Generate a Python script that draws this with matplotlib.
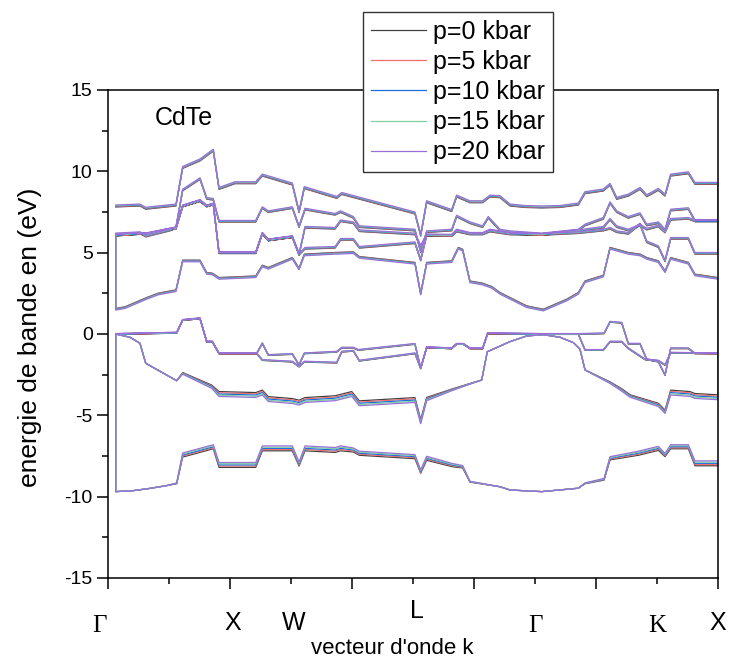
import numpy as np
import matplotlib
matplotlib.use("Agg")
import matplotlib.pyplot as plt
import matplotlib.transforms as mtransforms

plt.rcParams['font.family'] = ['Liberation Sans', 'DejaVu Sans']
plt.rcParams['axes.unicode_minus'] = False

# pressures and colours of the five series
pressures = [0, 5, 10, 15, 20]
series_labels = ['p=0 kbar', 'p=5 kbar', 'p=10 kbar', 'p=15 kbar', 'p=20 kbar']
series_colors = ['#404040', '#f07070', '#1a6fe0', '#80d0a0', '#9a70d8']

# high symmetry labels along the path
sym_labels = ['Γ', 'X', 'W', 'L', 'Γ', 'K', 'X']
sym_pos = [-0.07, 1.02, 1.52, 2.53, 3.5, 4.5, 5.0]

# bands: k (path units), E (eV, middle of the bundle)
# and the spread between p=0 and p=20 kbar
b1_k = [0.063, 0.207, 0.344, 0.481, 0.563, 0.612, 0.863, 0.910, 1.211, 1.265, 1.511, 1.566,
        1.615, 1.861, 1.907, 2.011, 2.060, 2.516, 2.563, 2.612, 2.817, 2.907, 2.967, 3.213,
        3.295, 3.555, 3.855, 3.910, 4.066, 4.115, 4.347, 4.511, 4.566, 4.612, 4.757, 4.811, 5.0]
b1_E = [-9.69, -9.63, -9.49, -9.32, -9.18, -7.44, -6.93, -8.05, -8.05, -7.03, -7.03, -7.99,
        -7.03, -7.13, -7.03, -7.13, -7.33, -7.54, -8.46, -7.64, -8.05, -8.16, -9.08, -9.39,
        -9.59, -9.69, -9.48, -9.18, -8.93, -7.64, -7.33, -7.03, -7.44, -6.93, -6.93, -7.95, -7.95]
b1_dp = [0, 0, 0, 0, 0.05, 0.25, 0.25, 0.3, 0.3, 0.3, 0.3, 0.25,
         0.3, 0.3, 0.3, 0.25, 0.25, 0.25, 0.2, 0.25, 0.2, 0.15, 0.05, 0,
         0, 0, 0, 0.05, 0.1, 0.2, 0.25, 0.25, 0.2, 0.25, 0.25, 0.3, 0.3]

b2_k = [0.063, 0.180, 0.262, 0.309, 0.563, 0.612, 0.850, 0.910, 1.211, 1.265, 1.314, 1.511,
        1.566, 1.615, 1.861, 1.998, 2.060, 2.516, 2.563, 2.612, 2.817, 2.940, 3.063, 3.109,
        3.213, 3.295, 3.432, 3.568, 3.705, 3.814, 3.869, 3.910, 4.115, 4.211, 4.279, 4.511,
        4.566, 4.612, 4.770, 4.811, 5.0]
b2_E = [0.0, -0.2, -0.57, -1.8, -2.87, -2.42, -3.24, -3.69, -3.75, -3.6, -4.0, -4.12,
        -4.22, -4.06, -3.95, -3.69, -4.26, -4.06, -5.39, -4.0, -3.44, -3.13, -2.83, -1.09,
        -0.74, -0.47, -0.12, -0.04, -0.2, -0.53, -0.94, -2.21, -2.99, -3.44, -3.81, -4.36,
        -4.78, -3.6, -3.69, -3.81, -3.89]
b2_dp = [0, 0, 0, 0, 0, -0.1, -0.2, -0.3, -0.3, -0.3, -0.3, -0.3,
         -0.3, -0.3, -0.3, -0.3, -0.3, -0.3, -0.25, -0.2, -0.1, -0.05, 0, 0,
         0, 0, 0, 0, 0, 0, 0, 0, -0.1, -0.15, -0.15, -0.2,
         -0.2, -0.3, -0.3, -0.3, -0.3]

b3_k = [0.063, 0.563, 0.612, 0.754, 0.809, 0.855, 0.910, 1.219, 1.265, 1.511, 1.566, 1.609,
        1.875, 1.916, 2.011, 2.060, 2.516, 2.563, 2.612, 2.817, 2.858, 2.912, 2.967, 3.071,
        3.112, 3.555, 3.855, 3.910, 4.060, 4.115, 4.211, 4.265, 4.402, 4.511, 4.566, 4.612, 5.0]
b3_E = [0.0, 0.08, 0.86, 0.96, -0.47, -0.47, -1.19, -1.19, -1.6, -1.7, -2.0, -1.7,
        -1.76, -1.09, -1.03, -1.64, -1.19, -2.11, -0.82, -0.88, -0.61, -0.61, -0.88, -0.88,
        0.04, 0.0, 0.0, -0.98, -0.98, -0.47, -0.47, -0.88, -1.56, -1.64, -1.9, -1.15, -1.19]
b3_dp = 0.05

b4_k = [0.063, 0.563, 0.612, 0.754, 0.809, 0.855, 0.910, 1.219, 1.265, 1.314, 1.511, 1.566,
        1.609, 1.875, 1.916, 2.011, 2.052, 2.516, 2.563, 2.612, 2.817, 2.858, 2.912, 2.967,
        3.071, 3.112, 3.555, 3.855, 4.066, 4.115, 4.211, 4.265, 4.361, 4.416, 4.511, 4.566,
        4.612, 4.757, 4.811, 5.0]
b4_E = [0.0, 0.08, 0.86, 0.96, -0.47, -0.47, -1.19, -1.19, -0.57, -1.29, -1.23, -1.9,
        -1.19, -1.09, -0.84, -0.84, -0.98, -0.61, -2.11, -0.82, -0.88, -0.61, -0.61, -0.88,
        -0.88, 0.04, 0.0, 0.0, 0.04, 0.75, 0.69, -0.6, -0.6, -1.56, -1.7, -2.52,
        -0.88, -0.88, -1.19, -1.19]
b4_dp = 0.05

b5_k = [0.063, 0.139, 0.207, 0.317, 0.412, 0.557, 0.612, 0.754, 0.809, 0.855, 0.910, 1.211,
        1.265, 1.314, 1.511, 1.566, 1.609, 1.861, 2.011, 2.060, 2.516, 2.563, 2.612, 2.817,
        2.871, 2.907, 2.967, 3.071, 3.145, 3.213, 3.268, 3.432, 3.568, 3.760, 3.855, 3.910,
        4.060, 4.115, 4.170, 4.265, 4.361, 4.416, 4.511, 4.566, 4.612, 4.757, 4.811, 5.0]
b5_E = [1.52, 1.62, 1.84, 2.19, 2.46, 2.66, 4.49, 4.49, 3.73, 3.69, 3.42, 3.52,
        4.18, 4.04, 4.65, 4.0, 4.86, 4.96, 5.0, 4.71, 4.35, 2.46, 4.35, 4.45,
        5.27, 5.16, 3.21, 3.07, 2.87, 2.5, 2.29, 1.68, 1.47, 2.09, 2.5, 3.21,
        3.56, 5.27, 5.16, 4.96, 4.86, 4.65, 4.45, 3.83, 4.65, 4.35, 3.63, 3.42]
b5_dp = -0.1

b6_k = [0.063, 0.262, 0.309, 0.508, 0.557, 0.612, 0.754, 0.809, 0.863, 0.910, 1.211, 1.265,
        1.314, 1.511, 1.566, 1.615, 1.861, 1.907, 2.011, 2.060, 2.516, 2.563, 2.612, 2.817,
        2.858, 2.967, 3.071, 3.117, 3.213, 3.295, 3.555, 3.855, 3.910, 4.060, 4.115, 4.170,
        4.265, 4.361, 4.416, 4.511, 4.566, 4.612, 4.757, 4.811, 5.0]
b6_E = [6.15, 6.23, 6.02, 6.39, 6.56, 8.85, 9.55, 8.34, 8.28, 6.93, 6.93, 7.77,
        7.52, 7.77, 6.6, 7.68, 7.36, 7.52, 7.17, 6.6, 6.39, 5.06, 6.29, 6.39,
        7.25, 6.84, 6.6, 7.17, 6.39, 6.29, 6.15, 6.39, 6.7, 7.11, 8.07, 7.52,
        7.17, 7.4, 6.7, 6.84, 6.39, 7.62, 7.71, 6.96, 6.96]
b6_dp = 0.1

b7_k = [0.063, 0.262, 0.309, 0.508, 0.557, 0.612, 0.754, 0.809, 0.863, 0.910, 1.211, 1.265,
        1.314, 1.511, 1.566, 1.615, 1.861, 1.907, 2.011, 2.060, 2.516, 2.563, 2.612, 2.817,
        2.858, 2.967, 3.071, 3.131, 3.295, 3.555, 3.855, 4.060, 4.115, 4.170, 4.265, 4.361,
        4.416, 4.511, 4.566, 4.612, 4.757, 4.811, 5.0]
b7_E = [6.08, 6.18, 6.15, 6.45, 6.5, 7.87, 8.2, 7.87, 7.99, 5.0, 5.0, 6.19,
        5.78, 5.98, 4.9, 6.56, 6.5, 6.96, 6.84, 6.35, 6.15, 5.4, 6.08, 6.08,
        6.39, 6.19, 6.19, 6.39, 6.19, 6.12, 6.35, 6.56, 7.05, 6.6, 6.39, 6.7,
        6.45, 6.64, 6.27, 7.05, 7.11, 6.96, 6.96]
b7_dp = 0.1

b8_k = [0.063, 0.262, 0.309, 0.508, 0.557, 0.612, 0.754, 0.809, 0.863, 0.910, 1.211, 1.265,
        1.314, 1.511, 1.566, 1.615, 1.861, 1.907, 2.011, 2.060, 2.516, 2.563, 2.612, 2.817,
        2.858, 2.967, 3.071, 3.131, 3.295, 3.555, 3.855, 4.060, 4.115, 4.170, 4.265, 4.361,
        4.416, 4.511, 4.566, 4.612, 4.757, 4.811, 5.0]
b8_E = [6.08, 6.18, 6.15, 6.45, 6.5, 7.87, 8.2, 7.87, 7.99, 5.0, 5.0, 6.19,
        5.78, 5.98, 4.9, 5.27, 5.33, 5.82, 5.82, 5.33, 5.61, 4.55, 6.08, 6.05,
        6.33, 6.15, 6.15, 6.33, 6.15, 6.12, 6.23, 6.39, 6.5, 6.29, 6.19, 6.76,
        5.67, 5.37, 4.5, 5.88, 5.88, 4.96, 4.96]
b8_dp = 0.1

b9_k = [0.063, 0.262, 0.309, 0.557, 0.612, 0.754, 0.863, 0.910, 1.041, 1.211, 1.265, 1.511,
        1.566, 1.609, 1.875, 1.916, 2.516, 2.563, 2.612, 2.817, 2.858, 2.967, 3.071, 3.131,
        3.213, 3.295, 3.418, 3.555, 3.705, 3.855, 3.910, 4.060, 4.115, 4.170, 4.265, 4.361,
        4.416, 4.511, 4.566, 4.612, 4.757, 4.811, 5.0]
b9_E = [7.87, 7.93, 7.73, 7.93, 10.24, 10.7, 11.3, 8.95, 9.3, 9.3, 9.77, 9.22,
        7.52, 9.0, 8.4, 8.64, 7.44, 6.08, 8.13, 7.59, 8.48, 8.13, 8.13, 8.48,
        8.44, 7.93, 7.84, 7.81, 7.84, 7.99, 8.69, 8.85, 9.2, 8.34, 8.54, 8.95,
        8.5, 8.89, 8.54, 9.77, 9.91, 9.26, 9.26]
b9_dp = 0.12

bands = [(b1_k, b1_E, b1_dp), (b2_k, b2_E, b2_dp), (b3_k, b3_E, b3_dp),
         (b4_k, b4_E, b4_dp), (b5_k, b5_E, b5_dp), (b6_k, b6_E, b6_dp),
         (b7_k, b7_E, b7_dp), (b8_k, b8_E, b8_dp), (b9_k, b9_E, b9_dp)]

fig = plt.figure(figsize=(7.29, 6.64), dpi=100)
ax = fig.add_axes([108/729, 1 - 578/664, 610/729, 488/664])

for p, col, lab in zip(pressures, series_colors, series_labels):
    xs, ys = [], []
    # one continuous trace, band direction alternating like the source file
    for i, (k, E, dp) in enumerate(bands):
        k = np.array(k)
        e = np.array(E) + (p / 20 - 0.5) * np.array(dp)
        if i % 2 == 0:
            k, e = k[::-1], e[::-1]
        xs.extend(k)
        ys.extend(e)
    ax.plot(xs, ys, color=col, lw=0.9, label=lab)

ax.set_xlim(0, 5)
ax.set_ylim(-15, 15)
ax.set_xticks(np.arange(0, 5.01, 1))
ax.set_xticks(np.arange(0.5, 5, 1), minor=True)
ax.set_yticks(np.arange(-15, 15.01, 5))
ax.set_yticks(np.arange(-12.5, 15, 5), minor=True)
ax.set_xticklabels([])
ax.tick_params(axis='both', which='major', direction='out', length=8, width=1.1, labelsize=14, pad=3)
ax.tick_params(axis='both', which='minor', direction='out', length=4, width=1.1)
for s in ax.spines.values():
    s.set_linewidth(1.1)

ax.text(0.077, 0.943, 'CdTe', transform=ax.transAxes, fontsize=18, ha='left', va='center')

trans = mtransforms.blended_transform_factory(ax.transData, ax.transAxes)
for name, x in zip(sym_labels, sym_pos):
    if name in ('Γ', 'K'):
        ax.text(x, -0.098, name, transform=trans, fontsize=18, ha='center', va='center',
                family=['Liberation Serif', 'DejaVu Serif'])
    elif name == 'L':
        ax.text(x, -0.068, name, transform=trans, fontsize=18, ha='center', va='center')
    else:
        ax.text(x, -0.092, name, transform=trans, fontsize=18, ha='center', va='center')

fig.text(392/729, 1 - 648/664, "vecteur d'onde k", fontsize=16, ha='center', va='center')
fig.text(30/729, 1 - 337/664, 'energie de bande en (eV)', fontsize=19, rotation=90,
         ha='center', va='center')

leg = fig.legend(loc='upper left', bbox_to_anchor=(363/729, 1 - 12/664), fontsize=18,
                 frameon=True, fancybox=False, framealpha=1, edgecolor='#333333',
                 handlelength=2.2, handletextpad=0.3, labelspacing=0.25, borderpad=0.3,
                 borderaxespad=0)
leg.get_frame().set_linewidth(1.0)

fig.savefig('out.png', dpi=100)
